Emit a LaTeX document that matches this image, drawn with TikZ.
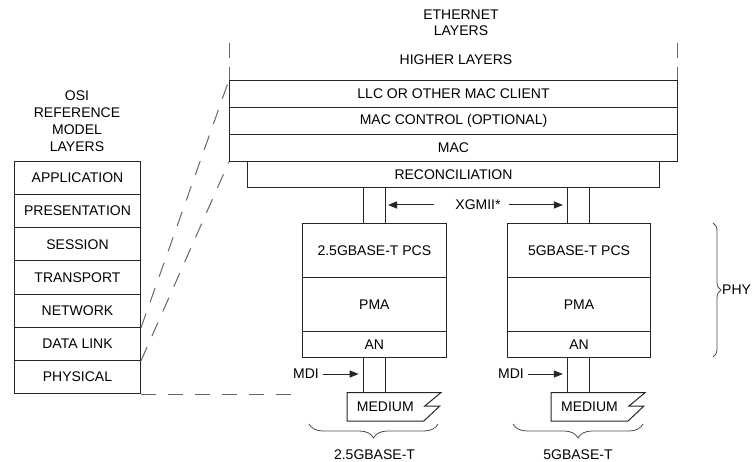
\documentclass[tikz,border=0pt]{standalone}
\usepackage{fontspec}
\setmainfont{Liberation Sans}
\usetikzlibrary{arrows.meta,decorations.pathreplacing}

\tikzset{
  line/.style={draw=black!85, line width=1pt},
  lbox/.style={line, rectangle, inner sep=0pt, anchor=north west, font=\fontsize{14}{16}\selectfont},
  lbl/.style={inner sep=0pt, font=\fontsize{14}{17}\selectfont, align=center},
  dashline/.style={draw=black!60, line width=1pt, dash pattern=on 15pt off 12pt},
  arr/.style={line, -{Triangle[length=9pt,width=7pt]}},
  curly/.style={draw=black!70, line width=0.8pt, decorate, decoration={brace, amplitude=#1}},
}

% box from its top-left corner with width and height
\newcommand{\layerbox}[6][]{%
  \node[lbox, minimum width=#4pt, minimum height=#5pt, #1] (#2) at #3 {};
  \node[lbl] at (#2.center) {#6};
}

\begin{document}
\begin{tikzpicture}[x=1pt, y=-1pt]
\useasboundingbox (0,0) rectangle (754,462);

% ---------- OSI reference model column ----------
\node[lbl] (osititle) at (77,121) {OSI\\REFERENCE\\MODEL\\LAYERS};
\layerbox{app}{(14,160.7)}{126}{33.2}{APPLICATION}
\layerbox{pres}{(14,193.9)}{126}{33.2}{PRESENTATION}
\layerbox{sess}{(14,227.1)}{126}{33.2}{SESSION}
\layerbox{trans}{(14,260.3)}{126}{33.2}{TRANSPORT}
\layerbox{net}{(14,293.5)}{126}{33.2}{NETWORK}
\layerbox{dl}{(14,326.7)}{126}{33.2}{DATA LINK}
\layerbox{phys}{(14,359.9)}{126}{33.2}{PHYSICAL}

% ---------- Ethernet layers ----------
\node[lbl, font=\fontsize{14}{16}\selectfont] (ethtitle) at (461,23) {ETHERNET\\LAYERS};
\node[lbl] (higher) at (456,60) {HIGHER LAYERS};
\coordinate (hlL) at (229,43);
\coordinate (hlR) at (677,43);
\layerbox{llc}{(229,80)}{448}{26.9}{LLC OR OTHER MAC CLIENT}
\layerbox{macc}{(229,106.9)}{448}{26.9}{MAC CONTROL (OPTIONAL)}
\layerbox{mac}{(229,133.8)}{448}{26.9}{MAC}
\layerbox{rec}{(247,160.7)}{412}{26.3}{RECONCILIATION}
\draw[dashline, dash pattern=on 15pt off 9pt] (hlL) -- (hlL |- llc.north);
\draw[dashline, dash pattern=on 15pt off 9pt] (hlR) -- (hlR |- llc.north);

% ---------- PHY stacks ----------
% left stack, centre x = 373.8
\layerbox{xg1}{(362.7,187)}{22.3}{35.7}{}
\layerbox{pcs1}{(302,222.7)}{143.7}{54.6}{2.5GBASE-T PCS}
\layerbox{pma1}{(302,277.3)}{143.7}{53.4}{PMA}
\layerbox{an1}{(302,330.7)}{143.7}{26}{AN}
\layerbox{mdi1}{(362.7,356.7)}{22.3}{36}{}
% right stack, centre x = 578
\layerbox{xg2}{(566.9,187)}{22.3}{35.7}{}
\layerbox{pcs2}{(507,222.7)}{143}{54.6}{5GBASE-T PCS}
\layerbox{pma2}{(507,277.3)}{143}{53.4}{PMA}
\layerbox{an2}{(507,330.7)}{143}{26}{AN}
\layerbox{mdi2}{(566.9,356.7)}{22.3}{36}{}

% medium symbols
\foreach \cx/\nm in {373.8/med1, 578/med2}{
  \draw[line, fill=white] (\cx-26.8,392.7) -- (\cx+67,392.7) -- (\cx+51,406)
    -- (\cx+66,406) -- (\cx+50,421) -- (\cx-26.8,421) -- cycle;
  \node[lbl] (\nm) at (\cx+11.5,406.5) {MEDIUM};
}

% XGMII arrows
\node[lbl] (xgmii) at (478,205) {XGMII*};
\draw[arr, shorten >=2pt] ([xshift=-21pt]xgmii.west) -- (xgmii.west -| xg1.east);
\draw[arr, shorten >=4pt] ([xshift=8pt]xgmii.east) -- (xgmii.east -| xg2.west);

% MDI arrows
\node[lbl] (mdilbl1) at (306,374) {MDI};
\node[lbl] (mdilbl2) at (511,374) {MDI};
\draw[arr, shorten <=4pt, shorten >=4pt] (mdilbl1.east) -- (mdilbl1.east -| mdi1.west);
\draw[arr, shorten <=4pt, shorten >=4pt] (mdilbl2.east) -- (mdilbl2.east -| mdi2.west);

% braces and their labels
\coordinate (b1r) at (438,424);
\coordinate (b1l) at (309,424);
\coordinate (b2r) at (643,424);
\coordinate (b2l) at (513,424);
\draw[curly=14pt] (b1r) -- (b1l);
\draw[curly=14pt] (b2r) -- (b2l);
\node[lbl] (t25) at (374.5,455) {2.5GBASE-T};
\node[lbl] (t5) at (578,455) {5GBASE-T};

\coordinate (pbt) at (713,223);
\coordinate (pbb) at (713,357);
\draw[curly=8pt] (pbt) -- (pbb);
\node[lbl, anchor=west] (phy) at (722,290) {PHY};

% correspondence between the two models
\draw[dashline] (net.south east) -- (llc.north west);
\draw[dashline] (dl.south east) -- (mac.south west);
\draw[dashline] (phys.south east) -- (phys.south east -| pcs1.west);
\end{tikzpicture}
\end{document}
